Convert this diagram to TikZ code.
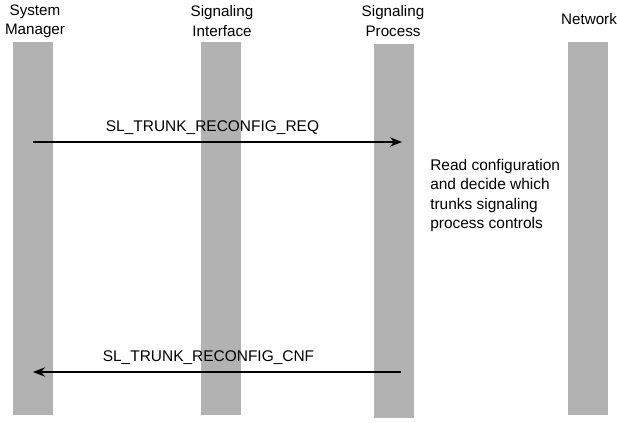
\documentclass[tikz,border=0pt]{standalone}
\usepackage{fontspec}
\setmainfont{Liberation Sans}
\usetikzlibrary{arrows.meta}

\tikzset{
  lifeline/.style={fill=black!30, draw=none, minimum width=30pt, minimum height=280pt, inner sep=0pt},
  header/.style={align=center, font=\fontsize{11.4}{14.4}\selectfont, inner sep=0pt},
  msglabel/.style={font=\fontsize{11.6}{14.6}\selectfont, inner sep=0pt},
  msg/.style={line width=1.3pt, -{Stealth[length=9pt,width=7pt]}}
}

\begin{document}
\begin{tikzpicture}[x=0.75pt, y=-0.75pt]
    \useasboundingbox (0,0) rectangle (617,423);

    % Lifelines
    \node[lifeline] (sm) at (33,228.5) {};
    \node[lifeline] (si) at (221,228.5) {};
    \node[lifeline] (sp) at (394,231) {};
    \node[lifeline] (nw) at (588,228.5) {};

    % Headers
    \node[header] (sm-name) at (35,21) {System\\Manager};
    \node[header] (si-name) at (222,21) {Signaling\\Interface};
    \node[header] (sp-name) at (393,21) {Signaling\\Process};
    \node[header] (nw-name) at (589,19) {Network};

    % Message end points
    \coordinate (req-from) at (sm.center |- 0,142);
    \coordinate (req-to) at ([xshift=6]sp.center |- 0,142);
    \coordinate (cnf-from) at ([xshift=5]sp.center |- 0,372);
    \coordinate (cnf-to) at (sm.center |- 0,372);

    % Messages
    \draw[msg] (req-from) -- (req-to);
    \node[msglabel] (req) at (212.5,128) {SL\_TRUNK\_RECONFIG\_REQ};
    \draw[msg] (cnf-from) -- (cnf-to);
    \node[msglabel] (cnf) at (208.5,358) {SL\_TRUNK\_RECONFIG\_CNF};

    % Action
    \node[msglabel, anchor=north west, align=left] (action) at (430,159)
        {Read configuration\\and decide which\\trunks signaling\\process controls};
\end{tikzpicture}
\end{document}
